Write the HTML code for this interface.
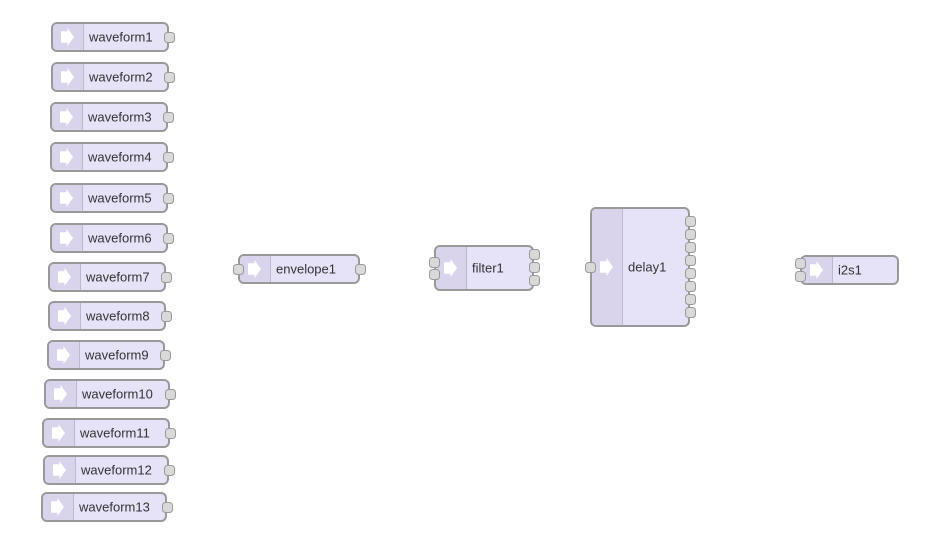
<!DOCTYPE html>
<html><head><style>
body{margin:0;width:936px;height:556px;background:#fff;position:relative;overflow:hidden;font-family:"Liberation Sans",sans-serif}
.n{position:absolute;box-sizing:border-box;border:2px solid #999;border-radius:6px;background:#e6e2f8}
.ic{position:absolute;left:0;top:0;bottom:0;width:28px;background:#d9d4ec;border-right:1px solid #bdb8d0;border-radius:4px 0 0 4px}
.ar{position:absolute;left:8px;width:13px;height:18px;top:50%;margin-top:-9px;background:#fff;clip-path:polygon(0 18%,50% 18%,50% 0,100% 50%,50% 100%,50% 82%,0 82%)}
.t{position:absolute;top:50%;transform:translateY(-50%);font-size:13px;color:#333;white-space:nowrap}
.p{position:absolute;width:11px;height:11px;box-sizing:border-box;background:#d9d9d9;border:1.5px solid #999;border-radius:3.5px}
</style></head><body>
<script>
var c=document.body;
function node(x,y,w,h,label,ins,outs,icw){
 icw=icw||30;
 var d=document.createElement('div');d.className='n';
 d.style.cssText='left:'+x+'px;top:'+y+'px;width:'+w+'px;height:'+h+'px';
 d.innerHTML='<div class="ic" style="width:'+icw+'px"><div class="ar"></div></div><div class="t" style="left:'+(icw+6)+'px">'+label+'</div>';
 c.appendChild(d);
 ins.forEach(function(py){var p=document.createElement('div');p.className='p';p.style.left=(x-5.5)+'px';p.style.top=(py-5.5)+'px';c.appendChild(p);});
 outs.forEach(function(py){var p=document.createElement('div');p.className='p';p.style.left=(x+w-5.5)+'px';p.style.top=(py-5.5)+'px';c.appendChild(p);});
}
var wf=[[51,22,118],[51,62,118],[50,102,118],[50,142,118],[50,183,118],[50,223,118],[48,262,118],[48,301,118],[47,340,118],[44,379,126],[42,418,128],[43,455,126],[41,492,126]];
wf.forEach(function(a,i){node(a[0],a[1],a[2],30,'waveform'+(i+1),[],[a[1]+15]);});
node(238,254,122,30,'envelope1',[269],[269]);
node(434,245,100,46,'filter1',[262,274],[254,267,280]);
var o=[];for(var i=0;i<8;i++)o.push(221+i*13);
node(590,207,100,120,'delay1',[267],o);
node(800,255,99,30,'i2s1',[263,276],[]);
</script>
</body></html>
